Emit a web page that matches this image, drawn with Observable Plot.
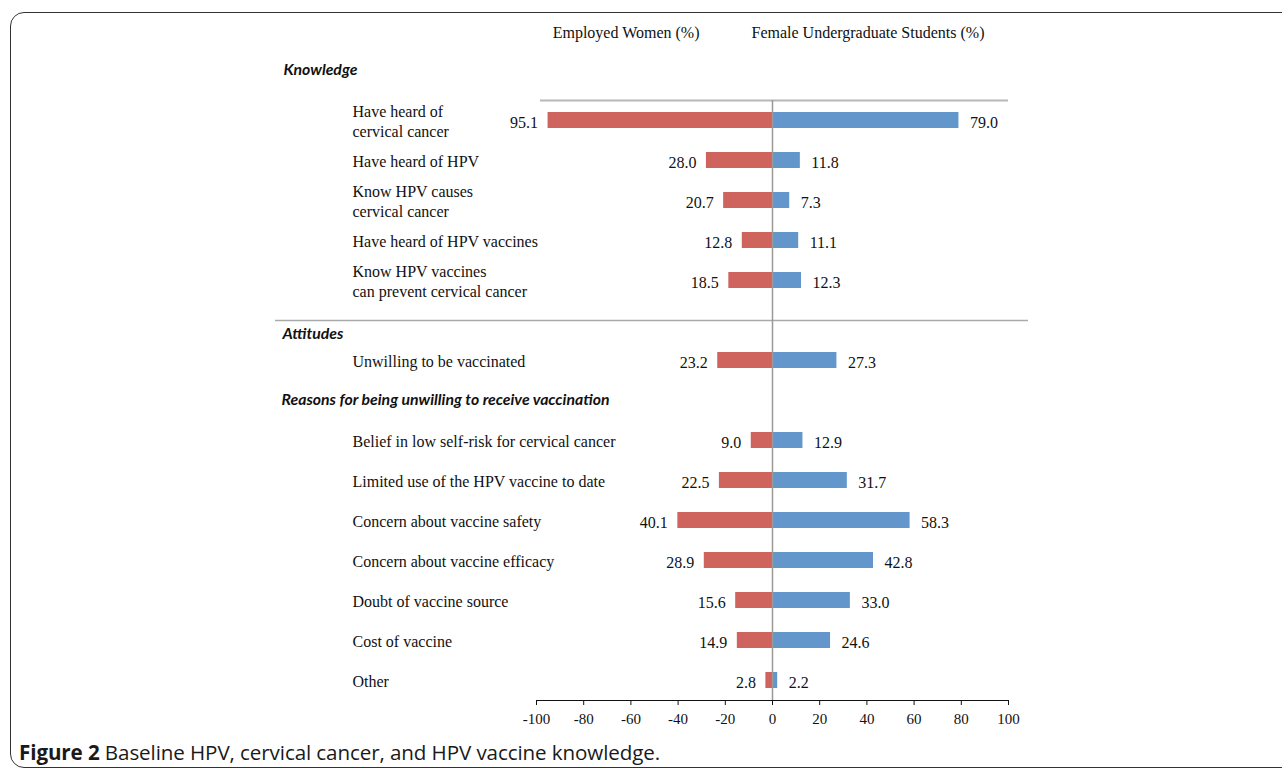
<!DOCTYPE html>
<html>
<head>
<meta charset="utf-8">
<script src="https://cdn.jsdelivr.net/npm/d3@7"></script>
<script src="https://cdn.jsdelivr.net/npm/@observablehq/plot@0.6"></script>
<style>
  html, body { margin: 0; padding: 0; background: #fff; overflow: hidden; width: 1282px; height: 770px; }
  #wrap { position: relative; width: 1282px; height: 770px; }
  #chart { position: absolute; left: 0; top: 0; }
  #border { position: absolute; left: 10px; top: 12px; width: 1320px; height: 754px; border: 1.5px solid #333; border-radius: 14px; pointer-events: none; }
  #caption { position: absolute; left: 19px; top: 738px; font-family: "Open Sans", sans-serif; font-size: 20.6px; color: #1a1a1a; white-space: nowrap; letter-spacing: -0.1px; }
  #caption b { font-weight: 700; }
</style>
</head>
<body>
<div id="wrap">
  <div id="chart"></div>
  <div id="caption"><b>Figure 2</b> Baseline HPV, cervical cancer, and HPV vaccine knowledge.</div>
  <div id="border"></div>
</div>
<script>
const categories = [
  "Have heard of\ncervical cancer",
  "Have heard of HPV",
  "Know HPV causes\ncervical cancer",
  "Have heard of HPV vaccines",
  "Know HPV vaccines\ncan prevent cervical cancer",
  "Unwilling to be vaccinated",
  "Belief in low self-risk for cervical cancer",
  "Limited use of the HPV vaccine to date",
  "Concern about vaccine safety",
  "Concern about vaccine efficacy",
  "Doubt of vaccine source",
  "Cost of vaccine",
  "Other"
];
const sections = ["Knowledge", "Attitudes", "Reasons for being unwilling to receive vaccination"];
const sectionOf = [0, 0, 0, 0, 0, 1, 2, 2, 2, 2, 2, 2, 2];
const employedWomen = [95.1, 28.0, 20.7, 12.8, 18.5, 23.2, 9.0, 22.5, 40.1, 28.9, 15.6, 14.9, 2.8];
const femaleStudents = [79.0, 11.8, 7.3, 11.1, 12.3, 27.3, 12.9, 31.7, 58.3, 42.8, 33.0, 24.6, 2.2];
const seriesNames = ["Employed Women (%)", "Female Undergraduate Students (%)"];
const xTicks = [-100, -80, -60, -40, -20, 0, 20, 40, 60, 80, 100];

const RED = "#cf635e", BLUE = "#6397cc";
const serif = "'Liberation Serif', 'Times New Roman', serif";
const headFont = "Lato, 'Open Sans', sans-serif";
const headSize = 15.8;

// y domain: rows, with a blank slot before each section after the first
const yDomain = [];
categories.forEach((c, i) => {
  if (i > 0 && sectionOf[i] !== sectionOf[i - 1]) yDomain.push("§" + sections[sectionOf[i]]);
  yDomain.push(c);
});
const rows = categories.map((c, i) => ({cat: c, emp: employedWomen[i], stu: femaleStudents[i]}));
const fmt = d3.format(".1f");

const plot = Plot.plot({
  width: 1282,
  height: 740,
  marginLeft: 536,
  marginRight: 274,
  marginTop: 100,
  marginBottom: 40,
  style: {background: "transparent", fontFamily: serif, fontSize: "15px", color: "#111", overflow: "visible"},
  x: {domain: [-100, 100], ticks: xTicks, tickFormat: d => String(d), tickSize: 5, tickPadding: 8, label: null, line: true},
  y: {domain: yDomain, paddingInner: 0.6, paddingOuter: 0.3, axis: null},
  marks: [
    // top border line
    Plot.ruleY([categories[0]], {dy: -20, stroke: "#b8b8b8", strokeWidth: 2, insetLeft: 4}),
    // section separator before Attitudes
    Plot.ruleY(["§" + sections[1]], {stroke: "#aaa", strokeWidth: 1.5, insetLeft: -261, insetRight: -20}),
    // bars
    Plot.barX(rows, {y: "cat", x1: 0, x2: d => -d.emp, fill: RED}),
    Plot.barX(rows, {y: "cat", x1: 0, x2: "stu", fill: BLUE}),
    // zero line
    Plot.ruleX([0], {stroke: "#999", strokeWidth: 1.5}),
    // value labels
    Plot.text(rows, {y: "cat", x: d => -d.emp, text: d => fmt(d.emp), textAnchor: "end", dx: -10, dy: 2, fontSize: 16, fill: "#111"}),
    Plot.text(rows, {y: "cat", x: "stu", text: d => fmt(d.stu), textAnchor: "start", dx: 11, dy: 2, fontSize: 16, fill: "#111"}),
    // row labels
    Plot.text(rows, {y: "cat", text: "cat", frameAnchor: "left", textAnchor: "start", dx: -184, fontSize: 16, lineHeight: 1.25, fill: "#111"}),
    // series headers
    Plot.text([seriesNames[0]], {text: d => d, frameAnchor: "top", textAnchor: "end", dx: -73, dy: -74, fontSize: 16, fill: "#111"}),
    Plot.text([seriesNames[1]], {text: d => d, frameAnchor: "top", textAnchor: "start", dx: -21, dy: -74, fontSize: 16, fill: "#111"}),
    // section headers
    Plot.text([sections[0]], {text: d => d, frameAnchor: "top-left", textAnchor: "start", dx: -253, dy: -37, fontFamily: headFont, fontWeight: "bold", fontStyle: "italic", fontSize: headSize, fill: "#111"}),
    Plot.text([sections[1]], {y: d => "§" + d, text: d => d, frameAnchor: "left", textAnchor: "start", dx: -254, dy: 13, fontFamily: headFont, fontWeight: "bold", fontStyle: "italic", fontSize: headSize, fill: "#111"}),
    Plot.text([sections[2]], {y: d => "§" + d, text: d => d, frameAnchor: "left", textAnchor: "start", dx: -255, dy: -1, fontFamily: headFont, fontWeight: "bold", fontStyle: "italic", fontSize: headSize, fill: "#111"})
  ]
});
document.getElementById("chart").appendChild(plot);
</script>
</body>
</html>
